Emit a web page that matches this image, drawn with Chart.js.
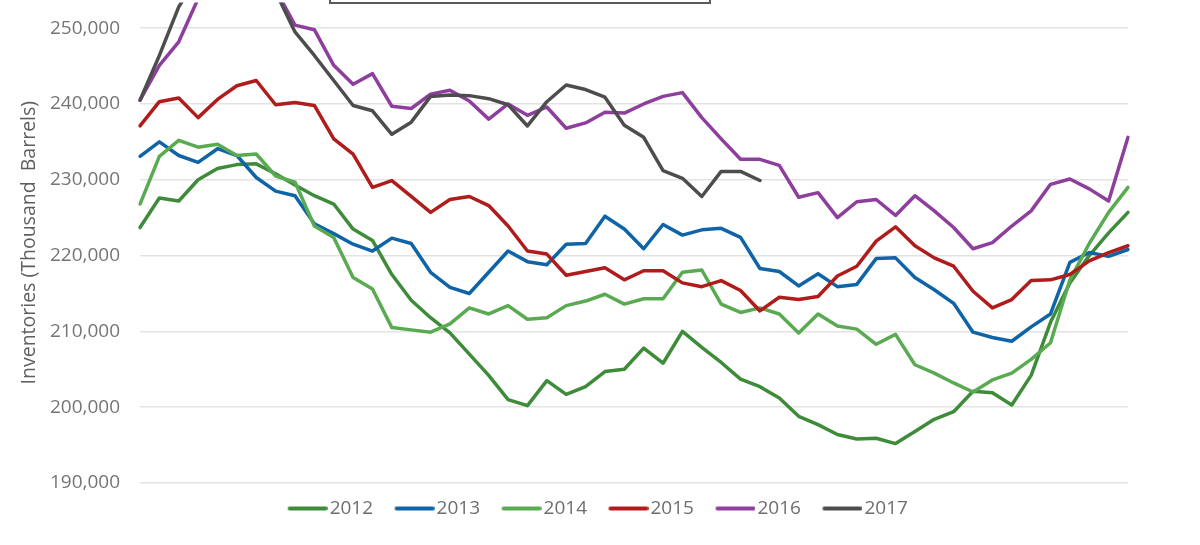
<!DOCTYPE html>
<html>
<head>
<meta charset="utf-8">
<script src="https://cdn.jsdelivr.net/npm/chart.js@4.4.1/dist/chart.umd.min.js"></script>
<style>
  html, body { margin: 0; padding: 0; background: #fff; overflow: hidden; }
  #wrap { position: absolute; left: 0; top: -29px; width: 1200px; height: 568px; }
  #titleBox { position: absolute; left: 329px; top: -40px; width: 382px; height: 44px;
              box-sizing: border-box; border: 2px solid #5a5a5a; background: #fff; }
</style>
</head>
<body>
<div id="wrap"><canvas id="cInv"></canvas></div>
<div id="titleBox"></div>
<script>
/* weekly inventories, thousand barrels */
const weeks = Array.from({ length: 52 }, (_, i) => 'W' + (i + 1));

const years = ['2012', '2013', '2014', '2015', '2016', '2017'];
const colors = ['#3e8b3a', '#0e64a6', '#5aaa52', '#b01c1c', '#8e3e9c', '#4d4d4d'];

const inv2012 = [223700, 227600, 227200, 230000, 231500, 232000, 232100, 230800, 229300, 227900,
  226800, 223500, 222000, 217500, 214100, 211800, 209800, 207000, 204200, 201000,
  200200, 203500, 201700, 202700, 204700, 205000, 207800, 205800, 210000, 207900,
  205900, 203700, 202700, 201200, 198800, 197700, 196400, 195800, 195900, 195200,
  196800, 198400, 199400, 202100, 201900, 200300, 204200, 211200, 216400, 220000,
  223000, 225700];
const inv2013 = [233100, 235000, 233200, 232300, 234100, 233200, 230300, 228500, 227900, 224200,
  222900, 221500, 220600, 222300, 221600, 217800, 215800, 215000, 217800, 220600,
  219200, 218800, 221500, 221600, 225200, 223500, 220900, 224100, 222700, 223400,
  223600, 222400, 218300, 217900, 216000, 217600, 215900, 216200, 219600, 219700,
  217100, 215500, 213700, 209900, 209200, 208700, 210600, 212300, 219100, 220400,
  219900, 220800];
const inv2014 = [226800, 233100, 235200, 234300, 234700, 233200, 233400, 230500, 229700, 223900,
  222400, 217100, 215600, 210500, 210200, 209900, 211000, 213100, 212300, 213400,
  211600, 211800, 213400, 214000, 214900, 213600, 214300, 214300, 217800, 218100,
  213600, 212500, 213100, 212300, 209800, 212300, 210700, 210300, 208300, 209600,
  205600, 204500, 203200, 202000, 203600, 204500, 206300, 208500, 216800, 221600,
  225700, 229000];
const inv2015 = [237100, 240300, 240800, 238200, 240600, 242400, 243100, 239900, 240200, 239800,
  235400, 233400, 229000, 229900, 227800, 225700, 227400, 227800, 226600, 223900,
  220600, 220200, 217400, 217900, 218400, 216800, 218000, 218000, 216400, 215900,
  216700, 215400, 212700, 214500, 214200, 214600, 217300, 218600, 221900, 223800,
  221300, 219700, 218600, 215300, 213100, 214200, 216700, 216800, 217500, 219300,
  220400, 221300];
const inv2016 = [240500, 245100, 248200, 253900, 256000, 257000, 257000, 255100, 250400, 249800,
  245100, 242600, 244000, 239700, 239400, 241300, 241800, 240400, 238000, 240000,
  238500, 239600, 236800, 237500, 238900, 238800, 240000, 241000, 241500, 238200,
  235400, 232700, 232700, 231900, 227700, 228300, 225000, 227100, 227400, 225300,
  227900, 225900, 223700, 220900, 221700, 223900, 225900, 229400, 230100, 228800,
  227200, 235600];
const inv2017 = [240500, 246400, 252800, 257000, 259000, 260000, 258000, 254800, 249500, 246400,
  243100, 239800, 239100, 236000, 237600, 241000, 241200, 241100, 240700, 239900,
  237100, 240300, 242500, 241900, 240900, 237200, 235600, 231200, 230200, 227800,
  231100, 231100, 229900];

const series = [inv2012, inv2013, inv2014, inv2015, inv2016, inv2017];

const yTicks = [190000, 200000, 210000, 220000, 230000, 240000, 250000];
const yMin = 190000;
const yMax = 253400;

const FONT = 'Open Sans';
const LEG_FONT = 19;
const LEG_BOX = 38;     // legend box width used by Chart.js for layout
const LEG_LINE = 40;    // visible marker length
const LEG_GAP = 2;      // marker end -> text

/* legend marker: a short thick line, placed so it ends just before the text */
function legendLine(color) {
  const w = LEG_BOX + LEG_FONT - 2 * LEG_GAP;
  const c = document.createElement('canvas');
  c.width = w;
  c.height = 6;
  const g = c.getContext('2d');
  g.strokeStyle = color;
  g.lineWidth = 4;
  g.lineCap = 'round';
  g.beginPath();
  g.moveTo(w - LEG_LINE + 2, 3);
  g.lineTo(w - 2, 3);
  g.stroke();
  return c;
}

new Chart(document.getElementById('cInv'), {
  type: 'line',
  data: {
    labels: weeks,
    datasets: series.map((d, i) => ({
      label: years[i],
      data: d,
      borderColor: colors[i],
      backgroundColor: colors[i],
      borderWidth: 3.5,
      borderJoinStyle: 'round',
      borderCapStyle: 'round',
      pointRadius: 0,
      pointStyle: legendLine(colors[i]),
      tension: 0,
      fill: false,
      order: series.length - i   // later years drawn on top
    }))
  },
  options: {
    responsive: true,
    maintainAspectRatio: false,
    animation: false,
    layout: { padding: { left: 0, right: 10, top: 0, bottom: 11 } },
    plugins: {
      legend: {
        position: 'bottom',
        labels: {
          usePointStyle: true,
          pointStyleWidth: LEG_BOX,
          padding: 16,
          color: '#6e6e6e',
          font: { family: FONT, size: LEG_FONT },
          sort: (a, b) => a.datasetIndex - b.datasetIndex
        }
      },
      tooltip: { enabled: false }
    },
    scales: {
      x: { display: false },
      y: {
        min: yMin,
        max: yMax,
        afterBuildTicks: s => { s.ticks = yTicks.map(v => ({ value: v })); },
        afterFit: s => { s.width = 140; },
        grid: { color: '#e3e3e3', lineWidth: 1.5, drawTicks: false },
        border: { display: false },
        ticks: {
          autoSkip: false,
          padding: 20,
          color: '#757575',
          font: { family: FONT, size: 19 },
          callback: v => v.toLocaleString('en-US')
        },
        title: {
          display: true,
          text: 'Inventories (Thousand  Barrels)',
          color: '#5f5f5f',
          font: { family: FONT, size: 19.5 },
          padding: { top: 18, bottom: 0 }
        }
      },
      yR: {
        position: 'right',
        display: true,
        grid: { display: false },
        border: { display: false },
        ticks: { display: false },
        afterFit: s => { s.width = 62; }
      }
    }
  }
});
</script>
</body>
</html>
